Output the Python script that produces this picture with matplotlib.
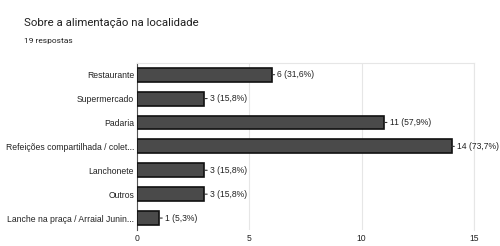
import matplotlib.pyplot as plt

categories = ['Restaurante', 'Supermercado', 'Padaria', 'Refeições compartilhada / colet...',
              'Lanchonete', 'Outros', 'Lanche na praça / Arraial Junin...']
counts = [6, 3, 11, 14, 3, 3, 1]
percents = ['31,6%', '15,8%', '57,9%', '73,7%', '15,8%', '15,8%', '5,3%']
xticks = [0, 5, 10, 15]

fig = plt.figure(figsize=(5, 2.46), dpi=100)
fig.text(0.048, 0.905, 'Sobre a alimentação na localidade', fontsize=8.2,
         family='Roboto', color='#202020', va='center')
fig.text(0.048, 0.835, '19 respostas', fontsize=6, family='Roboto',
         color='#202020', va='center')

ax = fig.add_axes([0.274, 0.065, 0.674, 0.68])
y = list(range(len(categories)))
ax.barh(y, counts, height=0.58, color='#4a4a4a', edgecolor='#111111', linewidth=1.2, zorder=3)
ax.set_xlim(0, 15)
ax.set_ylim(len(categories) - 0.5, -0.5)
ax.set_yticks(y)
ax.set_yticklabels(categories, fontsize=6.2, family='Liberation Sans', color='#222222')
ax.set_xticks(xticks)
ax.set_xticklabels([str(t) for t in xticks], fontsize=6.2, family='Liberation Sans', color='#222222')
ax.tick_params(axis='both', length=0, pad=2)
ax.tick_params(axis='x', pad=3)
ax.grid(axis='x', color='#e6e6e6', linewidth=0.8, zorder=0)
for s in ['top', 'right', 'bottom']:
    ax.spines[s].set_color('#e6e6e6')
    ax.spines[s].set_linewidth(0.8)
ax.spines['bottom'].set_visible(False)
ax.spines['left'].set_color('#555555')
ax.spines['left'].set_linewidth(0.8)

for yi, c, p in zip(y, counts, percents):
    ax.annotate(f'{c} ({p})', xy=(c, yi), xytext=(4, 0), textcoords='offset points',
                va='center', ha='left', fontsize=6.2, family='Liberation Sans', color='#222222',
                arrowprops=dict(arrowstyle='-', color='#333333', lw=0.8,
                                shrinkA=0, shrinkB=0))

fig.savefig('out.png', dpi=100)
